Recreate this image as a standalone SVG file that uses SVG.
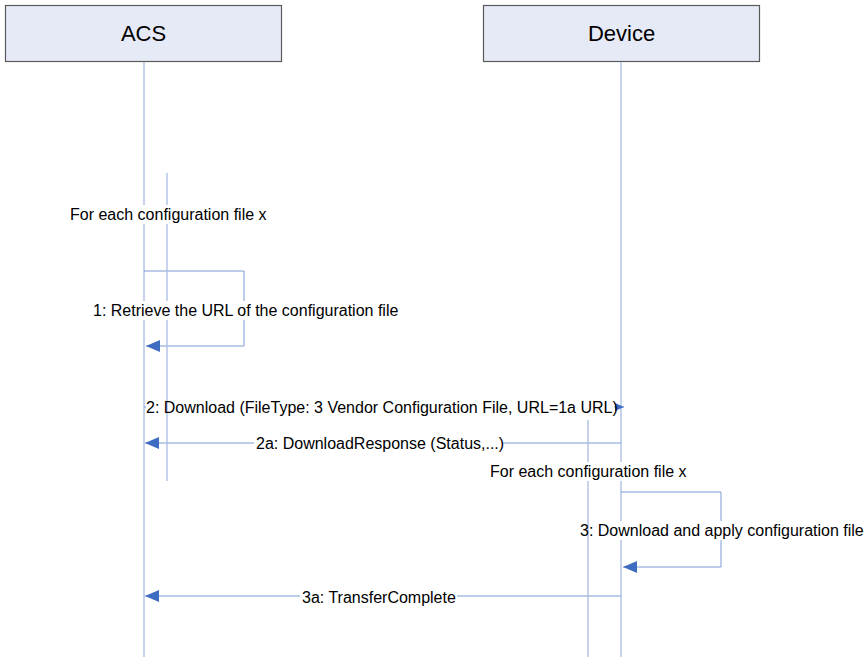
<svg xmlns="http://www.w3.org/2000/svg" width="867" height="657" viewBox="0 0 867 657">
<style>
.box{fill:#e6eaf6;stroke:#5a5a5a;stroke-width:1.2}
.life{stroke:#a9bce4;stroke-width:1.3;fill:none}
.msg{stroke:#7d9ad4;stroke-width:1;fill:none}
.t{font-family:"Liberation Sans",Arial,sans-serif;font-size:16px;fill:#000}
.h{font-family:"Liberation Sans",Arial,sans-serif;font-size:22px;fill:#000}
.bg{fill:#fff}
</style>
<defs>
<marker id="a" markerWidth="14" markerHeight="12" refX="14" refY="6" orient="auto" markerUnits="userSpaceOnUse" viewBox="0 0 14 12">
<path d="M0,0 L14,6 L0,12 z" fill="#3d6cc0"/>
</marker>
<marker id="s" markerWidth="9" markerHeight="8" refX="9" refY="4" orient="auto" markerUnits="userSpaceOnUse" viewBox="0 0 9 8">
<path d="M0,0 L9,4 L0,8 z" fill="#3d6cc0"/>
</marker>
</defs>
<rect width="867" height="657" fill="#fff"/>
<g id="acs">
<rect class="box" x="5.5" y="5.5" width="276" height="56"/>
<text class="h" x="143.5" y="41" text-anchor="middle">ACS</text>
</g>
<g id="device">
<rect class="box" x="483.5" y="5.5" width="276" height="56"/>
<text class="h" x="621.5" y="41" text-anchor="middle">Device</text>
</g>
<g id="lifelines">
<line class="life" x1="144" y1="62" x2="144" y2="657"/>
<line class="life" x1="621" y1="62" x2="621" y2="657"/>
</g>
<g id="connectors">
<polyline class="msg" points="144,271 244,271 244,346 146,346" marker-end="url(#a)"/>
<line class="msg" x1="144" y1="407" x2="624" y2="407" marker-end="url(#s)"/>
<line class="msg" x1="621" y1="443" x2="145" y2="443" marker-end="url(#a)"/>
<polyline class="msg" points="621,492 721,492 721,567 623,567" marker-end="url(#a)"/>
<line class="msg" x1="621" y1="596" x2="145" y2="596" marker-end="url(#a)"/>
</g>
<g id="label-bg-1">
<rect class="bg" x="146" y="398" width="468" height="19"/>
<rect class="bg" x="254" y="435" width="249" height="18"/>
<rect class="bg" x="592" y="521" width="272" height="19"/>
<rect class="bg" x="300" y="588" width="157" height="18"/>
</g>
<g id="activations">
<line class="life" x1="167" y1="173" x2="167" y2="481"/>
<line class="life" x1="588" y1="420" x2="588" y2="657"/>
</g>
<g id="label-bg-2">
<rect class="bg" x="68" y="205" width="200" height="19"/>
<rect class="bg" x="91" y="301" width="307" height="19"/>
<rect class="bg" x="488" y="462" width="200" height="19"/>
</g>
<g id="labels">
<text class="t" x="70" y="220">For each configuration file x</text>
<text class="t" x="93" y="316">1: Retrieve the URL of the configuration file</text>
<text class="t" x="146" y="413">2: Download (FileType: 3 Vendor Configuration File, URL=1a URL)</text>
<text class="t" x="256" y="449">2a: DownloadResponse (Status,...)</text>
<text class="t" x="490" y="477">For each configuration file x</text>
<text class="t" x="580" y="536">3: Download and apply configuration file</text>
<text class="t" x="302" y="603">3a: TransferComplete</text>
</g>
</svg>
